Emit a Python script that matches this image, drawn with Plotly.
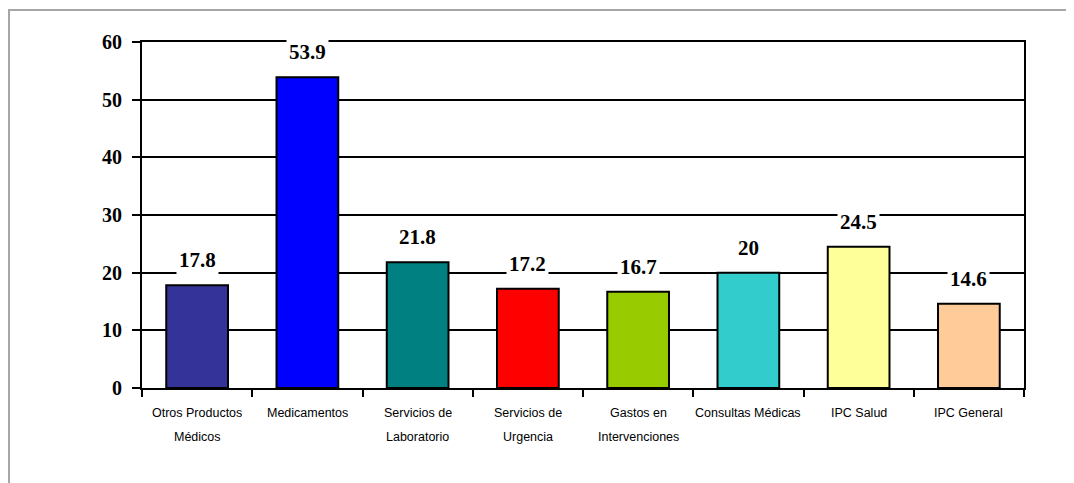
import plotly.graph_objects as go

categories = ["Otros Productos<br>Médicos", "Medicamentos", "Servicios de<br>Laboratorio",
              "Servicios de<br>Urgencia", "Gastos en<br>Intervenciones", "Consultas Médicas",
              "IPC Salud", "IPC General"]
values = [17.8, 53.9, 21.8, 17.2, 16.7, 20, 24.5, 14.6]
labels = ["17.8", "53.9", "21.8", "17.2", "16.7", "20", "24.5", "14.6"]
colors = ["#333399", "#0000FF", "#008080", "#FF0000", "#99CC00", "#33CCCC", "#FFFF99", "#FFCC99"]
y_ticks = [0, 10, 20, 30, 40, 50, 60]

fig = go.Figure()
fig.add_trace(go.Bar(
    x=categories, y=values,
    marker=dict(color=colors, line=dict(color="black", width=2)),
    width=0.56, hoverinfo="skip",
))

# value labels with white background
for c, v, t in zip(categories, values, labels):
    fig.add_annotation(x=c, y=v, text="<b>%s</b>" % t, showarrow=False,
                       yanchor="bottom", yshift=10, bgcolor="white", borderpad=2,
                       font=dict(family="Liberation Serif, Times New Roman, serif", size=21, color="black"))

# category labels (two lines with wide spacing)
for c in categories:
    for i, line in enumerate(c.split("<br>")):
        fig.add_annotation(x=c, y=0, text=line, showarrow=False, yanchor="top",
                           yshift=-16 - 24 * i,
                           font=dict(family="Liberation Sans Narrow, Arial Narrow, Liberation Sans, sans-serif",
                                     size=12.5, color="black"))

# outer gray frame
fig.add_shape(type="rect", xref="paper", yref="paper", x0=-0.1508, x1=1.3, y0=-0.6, y1=1.0925,
              line=dict(color="#A6A6A6", width=2), fillcolor="rgba(0,0,0,0)", layer="below")

fig.update_layout(
    width=1066, height=475,
    margin=dict(l=134, r=50, t=34, b=95),
    paper_bgcolor="white", plot_bgcolor="white",
    showlegend=False,
    bargap=0.44,
)
fig.update_xaxes(
    showline=True, linecolor="black", linewidth=2, mirror=True,
    ticks="outside", tickson="boundaries", ticklen=7, tickwidth=2, tickcolor="black",
    showgrid=False, showticklabels=False, automargin=False,
)
fig.update_yaxes(
    range=[0, 60], tickvals=y_ticks, ticktext=["<b>%d</b>" % v for v in y_ticks],
    showline=True, linecolor="black", linewidth=2, mirror=True,
    ticks="outside", ticklen=8, tickwidth=2, tickcolor="black",
    showgrid=True, gridcolor="black", gridwidth=2, zeroline=False,
    ticklabelstandoff=6, automargin=False,
    tickfont=dict(family="Liberation Serif, Times New Roman, serif", size=20, color="black"),
)

fig.write_html("out.html")
